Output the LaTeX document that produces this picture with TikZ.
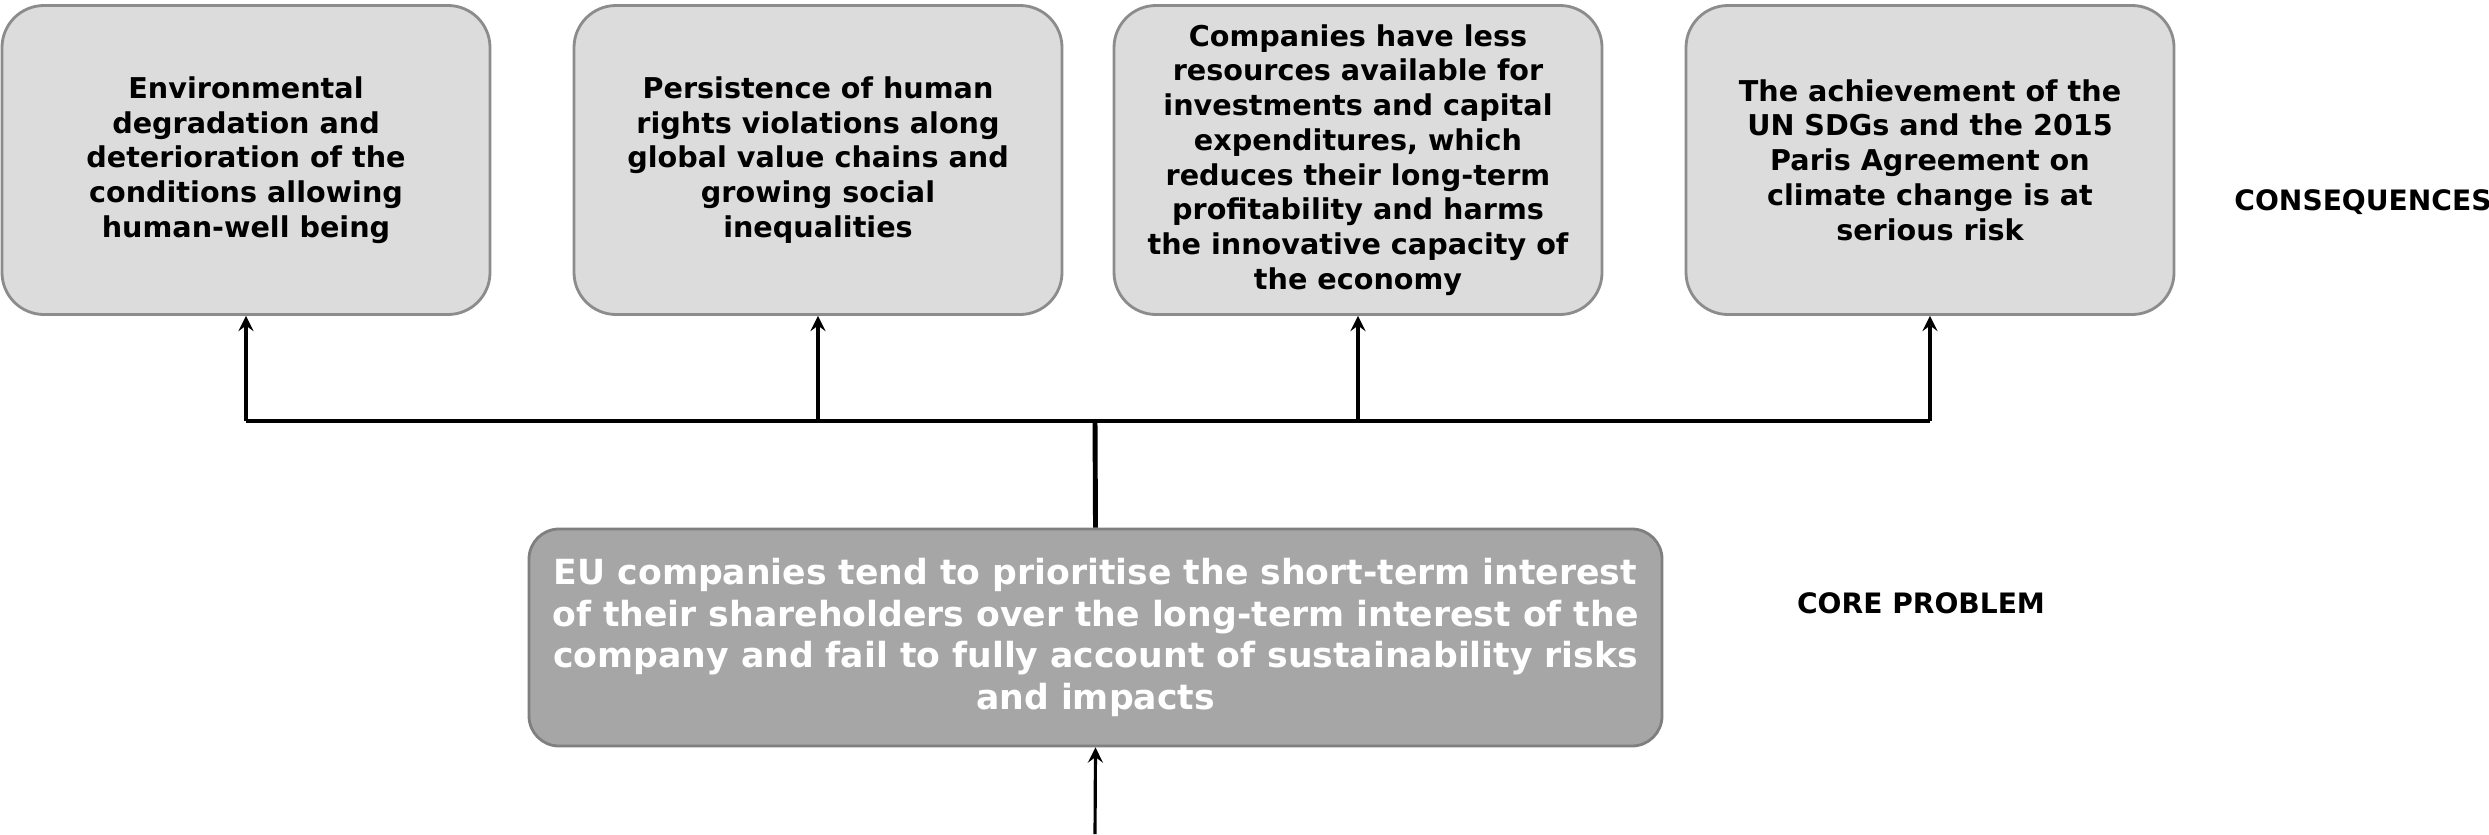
\documentclass[tikz,border=0pt]{standalone}
\usepackage{fontspec}
\setmainfont{DejaVu Sans}
\usepackage{tikz}
\usetikzlibrary{calc}
\definecolor{boxfill}{HTML}{DCDCDC}
\definecolor{boxline}{HTML}{8C8C8C}
\definecolor{corefill}{HTML}{A6A6A6}
\definecolor{coreline}{HTML}{7F7F7F}
\tikzset{>=stealth}
\tikzset{
  conbox/.style={draw=boxline,fill=boxfill,line width=0.8pt,rounded corners=0.42cm,
    minimum width=4.88cm,minimum height=3.09cm,align=center,inner sep=2pt,
    font=\fontsize{8.15}{9.9}\selectfont\bfseries},
  corebox/.style={draw=coreline,fill=corefill,line width=0.8pt,rounded corners=0.3cm,
    minimum width=11.33cm,minimum height=2.17cm,align=center,text=white,
    font=\fontsize{9.85}{11.9}\selectfont\bfseries},
  sidelabel/.style={font=\fontsize{8}{9.9}\selectfont\bfseries},
  link/.style={->,line width=0.9pt}
}

\begin{document}
\begin{tikzpicture}
      \useasboundingbox (0,0) rectangle (24.89,-8.34);
      % consequences
      \node[conbox] (cons1) at (2.46,-1.6) {Environmental\\degradation and\\deterioration of the\\conditions allowing\\human-well being};
      \node[conbox] (cons2) at (8.18,-1.6) {Persistence of human\\rights violations along\\global value chains and\\growing social\\inequalities};
      \node[conbox] (cons3) at (13.58,-1.6) {Companies have less\\resources available for\\investments and capital\\expenditures, which\\reduces their long-term\\profitability and harms\\the innovative capacity of\\the economy};
      \node[conbox] (cons4) at (19.30,-1.6) {The achievement of the\\UN SDGs and the 2015\\Paris Agreement on\\climate change is at\\serious risk};
      \node[sidelabel,anchor=west] (lblcons) at (22.22,-2.02) {CONSEQUENCES};
      % core problem
      \node[corebox] (core) at (10.955,-6.375) {EU companies tend to prioritise the short-term interest\\of their shareholders over the long-term interest of the\\company and fail to fully account of sustainability risks\\and impacts};
      \node[sidelabel] (lblcore) at (19.21,-6.03) {CORE PROBLEM};
      \coordinate (hub) at (10.95,-4.21);
      \coordinate (root) at (10.95,-8.34);
      \draw[line width=1.1pt] (cons1.south |- hub) -- (cons4.south |- hub);
      \draw[line width=1.4pt] (core.north) -- (hub);
      \foreach \n in {cons1,cons2,cons3,cons4}
        \draw[link] (\n.south |- hub) -- (\n.south);
      \draw[link] (root) -- (core.south);
    \end{tikzpicture}
\end{document}
